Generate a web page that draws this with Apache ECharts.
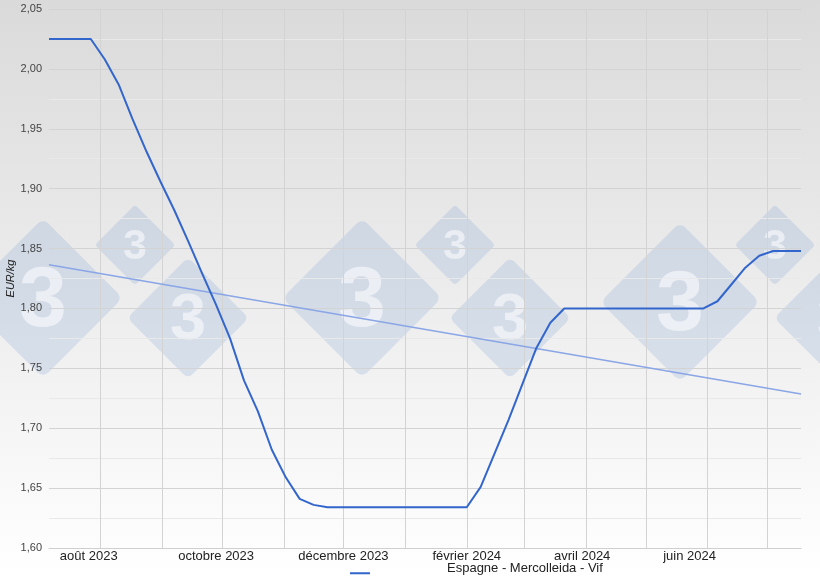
<!DOCTYPE html>
<html>
<head>
<meta charset="utf-8">
<script src="https://cdn.jsdelivr.net/npm/echarts@6/dist/echarts.min.js"></script>
<style>
html,body{margin:0;padding:0;background:#fff;}
#chart{width:820px;height:581px;}
</style>
</head>
<body>
<div id="chart"></div>
<script>
// Weekly dates (Thursdays)
const weeks = [
  '2023-07-06','2023-07-13','2023-07-20','2023-07-27',
  '2023-08-03','2023-08-10','2023-08-17','2023-08-24','2023-08-31',
  '2023-09-07','2023-09-14','2023-09-21','2023-09-28',
  '2023-10-05','2023-10-12','2023-10-19','2023-10-26',
  '2023-11-02','2023-11-09','2023-11-16','2023-11-23','2023-11-30',
  '2023-12-07','2023-12-14','2023-12-21','2023-12-28',
  '2024-01-04','2024-01-11','2024-01-18','2024-01-25',
  '2024-02-01','2024-02-08','2024-02-15','2024-02-22','2024-02-29',
  '2024-03-07','2024-03-14','2024-03-21','2024-03-28',
  '2024-04-04','2024-04-11','2024-04-18','2024-04-25',
  '2024-05-02','2024-05-09','2024-05-16','2024-05-23','2024-05-30',
  '2024-06-06','2024-06-13','2024-06-20','2024-06-27',
  '2024-07-04','2024-07-11','2024-07-18'
];
// Espagne - Mercolleida - Vif (EUR/kg)
const prices = [
  2.025,2.025,2.025,2.025,
  2.008,1.987,1.958,1.931,1.906,
  1.882,1.856,1.829,1.803,
  1.775,1.740,1.714,1.682,
  1.659,1.641,1.636,1.634,1.634,
  1.634,1.634,1.634,1.634,
  1.634,1.634,1.634,1.634,
  1.634,1.651,1.679,1.707,1.737,
  1.767,1.788,1.800,1.800,
  1.800,1.800,1.800,1.800,
  1.800,1.800,1.800,1.800,1.800,
  1.806,1.820,1.834,1.844,
  1.848,1.848,1.848
];
// Trend line end values
const trendStart = 1.8364;
const trendEnd = 1.7286;
// Month grid lines
const monthTicks = ['2023-08-01','2023-09-01','2023-10-01','2023-11-01','2023-12-01','2024-01-01',
  '2024-02-01','2024-03-01','2024-04-01','2024-05-01','2024-06-01','2024-07-01'];
// Axis label anchors and texts
const labelDates = ['2023-07-26','2023-09-28','2023-12-01','2024-02-01','2024-03-30','2024-05-23'];
const labelTexts = ['août 2023','octobre 2023','décembre 2023','février 2024','avril 2024','juin 2024'];
const seriesName = 'Espagne - Mercolleida - Vif';
const yMin = 1.60, yMax = 2.05, yStep = 0.05;

const DAY = 86400000;
function t(d){ return Date.parse(d + 'T00:00:00Z') / DAY; }
const labelMap = {};
labelDates.forEach(function(d,i){ labelMap[t(d)] = labelTexts[i]; });

const chart = echarts.init(document.getElementById('chart'));
const FONT = '"Liberation Sans", Arial, sans-serif';

// watermark diamonds (decoration)
const marks = [
  [43,298,113],[135,245,57],[188,318,86],
  [362,298,113],[455,245,57],[510,318,86],
  [680,302,113],[775,245,57],[835,318,86]
];
const graphics = [];
marks.forEach(function(m){
  graphics.push({
    type:'group', x:m[0], y:m[1], z:1, silent:true,
    children:[
      {type:'rect', rotation:Math.PI/4, shape:{x:-m[2]/2,y:-m[2]/2,width:m[2],height:m[2],r:m[2]*0.07},
       style:{fill:'rgba(110,150,210,0.2)'}},
      {type:'text', style:{text:'3', x:0, y:m[2]*0.04, fill:'rgba(255,255,255,0.55)', font:'bold '+Math.round(m[2]*0.76)+'px '+FONT, align:'center', verticalAlign:'middle'}}
    ]
  });
});

const option = {
  backgroundColor: new echarts.graphic.LinearGradient(0,0,0,1,[
    {offset:0,color:'#dadada'},{offset:1,color:'#ffffff'}
  ]),
  animation:false,
  textStyle:{fontFamily:FONT},
  grid:{left:49,right:19,top:9,bottom:33,containLabel:false,outerBoundsMode:'none'},
  graphic: graphics,
  legend:{
    data:[{name:seriesName, icon:'path://M0,0h0.1v0.1h-0.1z M0,9.5h20v2h-20z'}],
    left:350, top:562, padding:0,
    itemWidth:20, itemHeight:12,
    textStyle:{fontSize:13,color:'#222',fontFamily:FONT,padding:[0,0,0,72]}
  },
  xAxis:{
    type:'value',
    min:t(weeks[0]), max:t(weeks[weeks.length-1]),
    axisLine:{show:true,lineStyle:{color:'#cfcfcf'}},
    axisTick:{show:false, customValues:monthTicks.map(t)},
    splitLine:{show:true,lineStyle:{color:'#d3d3d3',width:1}},
    axisLabel:{
      customValues:labelDates.map(t),
      color:'#222', fontSize:13, margin:2,
      formatter:function(v){ return labelMap[v] || ''; }
    }
  },
  yAxis:{
    type:'value', min:yMin, max:yMax, interval:yStep,
    name:'EUR/kg', nameLocation:'middle', nameGap:33, nameRotate:90, nameMoveOverlap:false,
    nameTextStyle:{fontStyle:'italic',fontSize:11,color:'#222'},
    axisLine:{show:false}, axisTick:{show:false},
    axisLabel:{color:'#444',fontSize:11,margin:7,formatter:function(v){return v.toFixed(2).replace('.',',');}},
    splitLine:{lineStyle:{color:'#d3d3d3'}},
    minorTick:{show:false, splitNumber:2},
    minorSplitLine:{show:true,lineStyle:{color:'#e9e9e9'}}
  },
  series:[
    {
      name:seriesName, type:'line', z:3,
      data: weeks.map(function(d,i){return [t(d), prices[i]];}),
      showSymbol:false, symbol:'none',
      lineStyle:{color:'#3366cc',width:2},
      itemStyle:{color:'#3366cc'}
    },
    {
      name:'trend', type:'line', z:2,
      data:[[t(weeks[0]),trendStart],[t(weeks[weeks.length-1]),trendEnd]],
      showSymbol:false, symbol:'none',
      lineStyle:{color:'#8aa6e6',width:1.5}
    }
  ]
};
chart.setOption(option);
</script>
</body>
</html>
